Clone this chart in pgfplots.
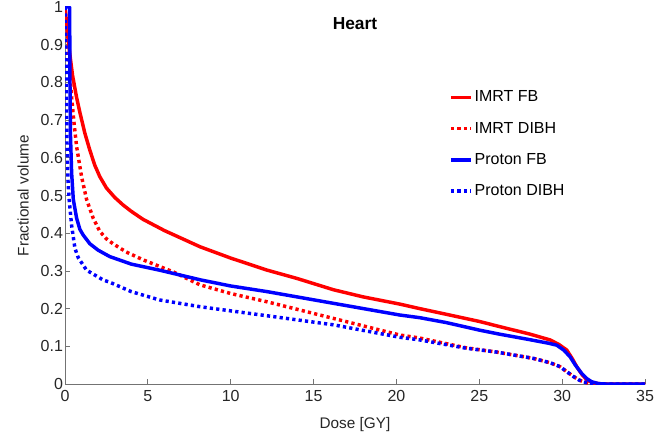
\documentclass[border=0pt]{standalone}
\usepackage{pgfplots}
\pgfplotsset{compat=1.18}
\usepackage{fontspec}
\setmainfont{Liberation Sans}

\pgfplotstableread{
x y
0 1
0.05 0.98
0.1 0.95
0.25 0.89
0.45 0.82
0.7 0.76
0.9 0.72
1.2 0.665
1.5 0.62
1.8 0.58
2.1 0.55
2.5 0.52
3.0 0.495
3.5 0.475
4.0 0.458
4.7 0.437
6.0 0.407
7.7 0.373
8.15 0.364
10 0.334
12.2 0.302
14 0.28
16.2 0.25
18 0.231
20.2 0.212
21.4 0.2
23 0.185
25 0.166
26.25 0.152
28 0.133
29.27 0.117
29.8 0.105
30.28 0.09
30.6 0.068
30.88 0.046
31.2 0.025
31.49 0.011
31.8 0.004
32.2 0.001
32.6 0
35 0
}\imrtfb

\pgfplotstableread{
x y
0 1
0.05 0.95
0.1 0.92
0.25 0.85
0.4 0.76
0.55 0.69
0.7 0.63
1.0 0.55
1.3 0.49
1.7 0.44
2.1 0.405
2.5 0.385
2.9 0.372
3.7 0.35
4.73 0.329
6.5 0.298
8.15 0.263
10 0.24
12.2 0.218
16.2 0.174
20.2 0.13
21.4 0.122
24.2 0.096
26 0.085
28.26 0.068
29.3 0.056
29.87 0.046
30.3 0.032
30.68 0.02
31.0 0.011
31.27 0.006
31.6 0.002
32 0
35 0
}\imrtdibh

\pgfplotstableread{
x y
0 1
0.28 1
0.3 0.8
0.33 0.66
0.4 0.56
0.5 0.49
0.7 0.44
0.9 0.41
1.1 0.395
1.5 0.372
2.0 0.355
2.7 0.338
4 0.318
5.7 0.302
8.2 0.276
10 0.26
12.2 0.245
16.2 0.214
20.2 0.183
21.4 0.176
23 0.163
25 0.143
26.25 0.132
28 0.118
29.2 0.108
29.67 0.103
30.1 0.09
30.48 0.072
30.8 0.05
31.18 0.028
31.5 0.014
31.78 0.006
32.2 0.001
32.6 0
35 0
}\protonfb

\pgfplotstableread{
x y
0 1
0.05 0.9
0.08 0.8
0.12 0.64
0.18 0.54
0.25 0.49
0.4 0.42
0.6 0.36
0.8 0.335
1.3 0.302
2.3 0.276
2.7 0.27
4 0.245
5.7 0.223
8.15 0.205
10 0.194
12.2 0.181
16.2 0.157
20.2 0.124
21.4 0.117
24.2 0.095
26 0.085
28.26 0.068
29.3 0.056
29.87 0.046
30.3 0.032
30.68 0.02
31.0 0.011
31.27 0.006
31.7 0.001
32 0
35 0
}\protondibh

\begin{document}
\begin{tikzpicture}
\begin{axis}[
  scale only axis, width=435pt, height=282.75pt,
  xmin=0, xmax=35, ymin=0, ymax=1,
  xtick={0,5,...,35},
  ytick={0,0.1,0.2,0.3,0.4,0.5,0.6,0.7,0.8,0.9,1},
  axis lines*=left,
  tick align=inside,
  major tick length=4pt,
  axis line style={black!55, line width=0.6pt},
  tick style={black!55, line width=0.6pt},
  /pgf/number format/assume math mode=true,
  ticklabel style={font=\fontsize{12}{14}\selectfont, text=black!85},
  yticklabel style={/pgf/number format/fixed, /pgf/number format/precision=1, xshift=2pt},
  xticklabel style={yshift=-1.5pt},
  xlabel={Dose [GY]}, ylabel={Fractional volume},
  label style={font=\fontsize{11.5}{13}\selectfont, text=black!85},
  xlabel style={yshift=-5pt},
  ylabel style={yshift=2pt},
  legend style={draw=none, fill=none, at={(0.662,0.785)}, anchor=north west,
    font=\fontsize{12}{14}\selectfont, row sep=9.6pt, inner sep=0pt,
    nodes={inner xsep=1.5pt}},
  legend cell align=left,
  legend image code/.code={\draw[#1] (0pt,0pt) -- (15pt,0pt);},
  every axis plot/.append style={line width=2.6pt, line join=round},
]
\addplot[red] table {\imrtfb};
\addlegendentry{IMRT FB}
\addplot[red, dash pattern=on 2.4pt off 2.4pt] table {\imrtdibh};
\addlegendentry{IMRT DIBH}
\addplot[blue] table {\protonfb};
\addlegendentry{Proton FB}
\addplot[blue, dash pattern=on 2.4pt off 2.4pt] table {\protondibh};
\addlegendentry{Proton DIBH}
\node[font=\bfseries\fontsize{13}{15}\selectfont, text=black] at (rel axis cs:0.5,0.955) {Heart};
\coordinate (sw) at (rel axis cs:0,0);
\coordinate (ne) at (rel axis cs:1,1);
\end{axis}
\pgfresetboundingbox
\path[use as bounding box] ([shift={(-48.75pt,-39pt)}]sw) rectangle ([shift={(18pt,5.25pt)}]ne);
\end{tikzpicture}
\end{document}
